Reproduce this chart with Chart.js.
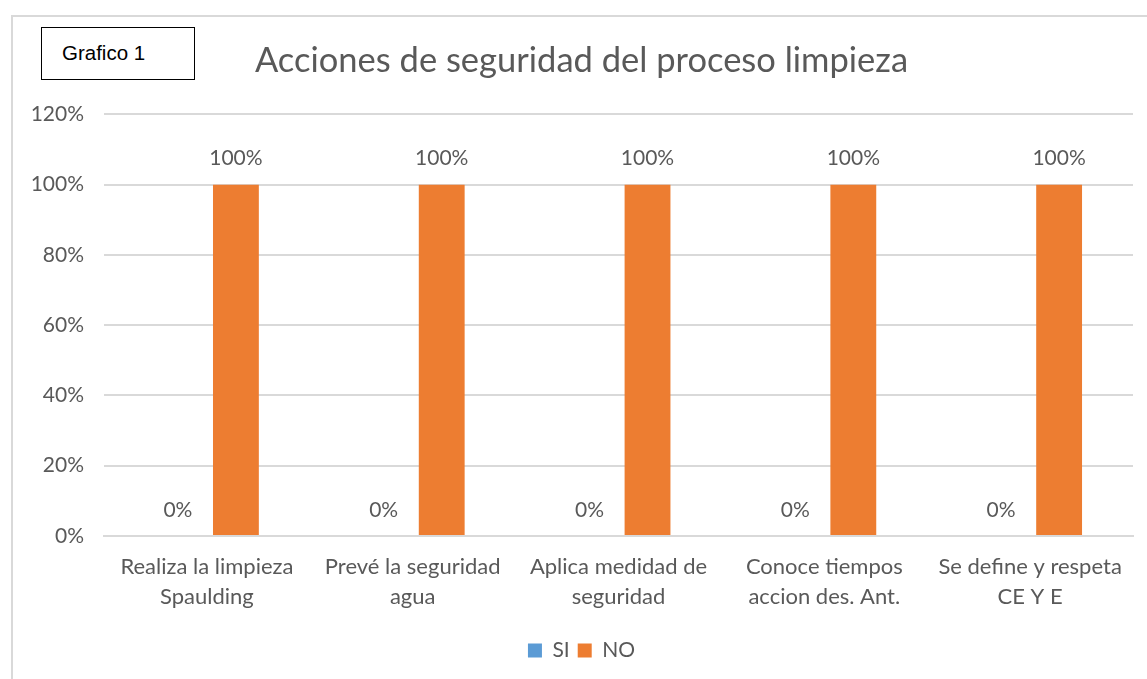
<!DOCTYPE html>
<html>
<head>
<meta charset="utf-8">
<script src="https://cdn.jsdelivr.net/npm/chart.js@4/dist/chart.umd.min.js"></script>
<style>
    body { margin: 0; background: #fff; overflow: hidden; }
    #wrap { position: relative; width: 1147px; height: 679px; }
    #frame {
        position: absolute; left: 11px; top: 15px; width: 1200px; height: 720px;
        border: 2px solid #D9D9D9; box-sizing: border-box; pointer-events: none;
    }
    #tag {
        position: absolute; left: 41px; top: 27px; width: 154px; height: 53px;
        border: 1px solid #000; box-sizing: border-box; background: #fff;
        font: 20.5px "Liberation Sans", Arial, sans-serif; color: #000;
        padding: 13px 0 0 20px;
    }
    canvas { position: absolute; left: 0; top: 0; }
</style>
</head>
<body>
<div id="wrap">
    <canvas id="chart" width="1147" height="679"></canvas>
    <div id="frame"></div>
    <div id="tag">Grafico 1</div>
</div>
<script>
// Chart data
const categories = [
    ['Realiza la limpieza', 'Spaulding'],
    ['Prevé la seguridad', 'agua'],
    ['Aplica medidad de', 'seguridad'],
    ['Conoce tiempos', 'accion des. Ant.'],
    ['Se define y respeta', 'CE Y E']
];
const siValues = [0, 0, 0, 0, 0];
const noValues = [100, 100, 100, 100, 100];
const yTicks = [0, 20, 40, 60, 80, 100, 120];

const textColor = '#595959';
const gridColor = '#D9D9D9';

/**
 * Draws the value label above each bar
 */
const barLabels = {
    id: 'barLabels',
    afterDatasetsDraw(chart) {
        const ctx = chart.ctx;
        ctx.save();
        ctx.font = '21px Lato';
        ctx.fillStyle = textColor;
        ctx.textAlign = 'center';
        ctx.textBaseline = 'middle';
        chart.data.datasets.forEach(function(ds, i) {
            chart.getDatasetMeta(i).data.forEach(function(bar, j) {
                ctx.fillText(ds.data[j] + '%', bar.x, bar.y - 26);
            });
        });
        ctx.restore();
    }
};

new Chart(document.getElementById('chart'), {
    type: 'bar',
    data: {
        labels: categories,
        datasets: [{
            label: 'SI',
            data: siValues,
            backgroundColor: '#5B9BD5'
        }, {
            label: 'NO',
            data: noValues,
            backgroundColor: '#ED7D31'
        }]
    },
    options: {
        responsive: false,
        animation: false,
        categoryPercentage: 0.564,
        barPercentage: 0.79,
        layout: { padding: { left: 30, right: 14, top: 0, bottom: 8 } },
        plugins: {
            title: {
                display: true,
                text: 'Acciones de seguridad del proceso limpieza',
                color: textColor,
                font: { family: 'Lato', size: 34.5, weight: 'normal' },
                padding: { top: 40, bottom: 33 }
            },
            legend: {
                position: 'bottom',
                labels: {
                    color: textColor,
                    font: { family: 'Lato', size: 21 },
                    boxWidth: 14,
                    boxHeight: 14,
                    padding: 8
                }
            },
            tooltip: { enabled: false }
        },
        scales: {
            x: {
                afterFit: function(scale) { scale.height = 96; },
                grid: { display: false },
                border: { color: gridColor, width: 2 },
                ticks: {
                    color: textColor,
                    font: { family: 'Lato', size: 22, lineHeight: 1.37 },
                    padding: 8,
                    maxRotation: 0
                }
            },
            y: {
                min: 0,
                max: 120,
                afterBuildTicks: function(scale) {
                    scale.ticks = yTicks.map(function(v) { return { value: v }; });
                },
                afterFit: function(scale) { scale.width = 74; },
                grid: { color: gridColor, lineWidth: 2, drawTicks: false },
                border: { display: false },
                ticks: {
                    color: textColor,
                    font: { family: 'Lato', size: 21 },
                    padding: 20,
                    callback: function(v) { return v + '%'; }
                }
            }
        }
    },
    plugins: [barLabels]
});
</script>
</body>
</html>
